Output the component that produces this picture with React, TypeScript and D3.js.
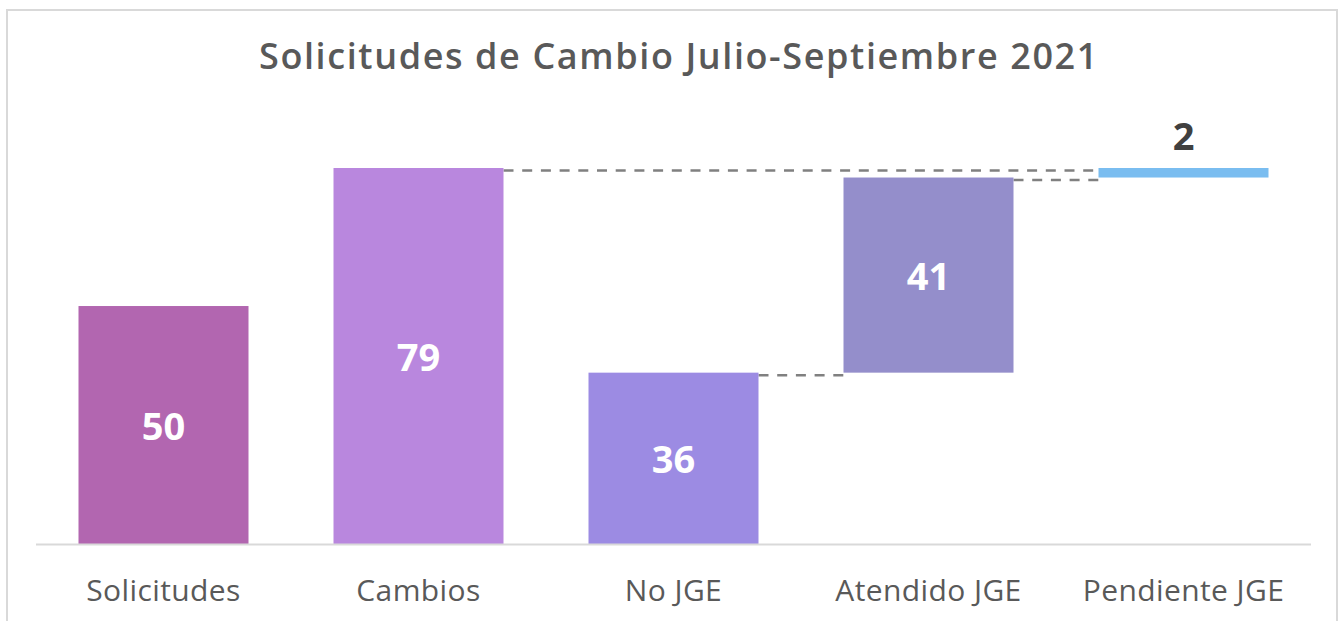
import React from "react";
import * as d3 from "d3";

const categories = ["Solicitudes", "Cambios", "No JGE", "Atendido JGE", "Pendiente JGE"];
const startValues = [0, 0, 0, 36, 77];
const endValues = [50, 79, 36, 77, 79];
const labels = ["50", "79", "36", "41", "2"];
const colors = ["#B266B0", "#B987DE", "#9C8BE3", "#948ECB", "#7ABDF0"];
// connectors: [fromIndex, toIndex, value]
const connFrom = [1, 2, 3];
const connTo = [4, 3, 4];
const connValue = [79, 36, 77];

const W = 1340;
const H = 621;

export default function App() {
  const x = d3.scaleBand<string>().domain(categories).range([36, 1311]).paddingInner(1 / 3).paddingOuter(1 / 6);
  const y = d3.scaleLinear().domain([0, 79]).range([544, 168]);
  const bw = x.bandwidth();
  const font = "'Open Sans', 'Noto Sans', sans-serif";

  return (
    <svg width={W} height={H} style={{ position: "absolute", left: 0, top: 0, background: "#fff" }}>
      <rect x={7} y={10} width={1330} height={H} fill="#fff" stroke="#d9d9d9" strokeWidth={2} />
      <text x={679} y={55} textAnchor="middle" dominantBaseline="central" fontFamily={font} fontSize={36} fontWeight={600} fill="#595959" letterSpacing={1.6}>
        Solicitudes de Cambio Julio-Septiembre 2021
      </text>
      {connFrom.map((f, i) => (
        <line key={"c" + i}
          x1={(x(categories[f]) as number) + bw}
          x2={x(categories[connTo[i]]) as number}
          y1={y(connValue[i]) + 2.5}
          y2={y(connValue[i]) + 2.5}
          stroke="#808080" strokeWidth={2.5} strokeDasharray="10,8.7" />
      ))}
      {categories.map((c, i) => (
        <rect key={c} x={x(c)} y={y(endValues[i])} width={bw}
          height={y(startValues[i]) - y(endValues[i])} fill={colors[i]} />
      ))}
      <line x1={36} x2={1311} y1={544.5} y2={544.5} stroke="#d9d9d9" strokeWidth={2} />
      {categories.map((c, i) => {
        const cx = (x(c) as number) + bw / 2;
        const big = y(startValues[i]) - y(endValues[i]) > 50;
        const cy = big ? (y(startValues[i]) + y(endValues[i])) / 2 : y(endValues[i]) - 33;
        return (
          <text key={"l" + c} x={cx} y={cy} textAnchor="middle" dominantBaseline="central"
            fontFamily={font} fontSize={38} fontWeight={700} fill={big ? "#ffffff" : "#404040"}>
            {labels[i]}
          </text>
        );
      })}
      {categories.map((c) => (
        <text key={"a" + c} x={(x(c) as number) + bw / 2} y={589} textAnchor="middle" dominantBaseline="central"
          fontFamily={font} fontSize={30} fontWeight={500} fill="#595959" letterSpacing={0.4}>
          {c}
        </text>
      ))}
    </svg>
  );
}
